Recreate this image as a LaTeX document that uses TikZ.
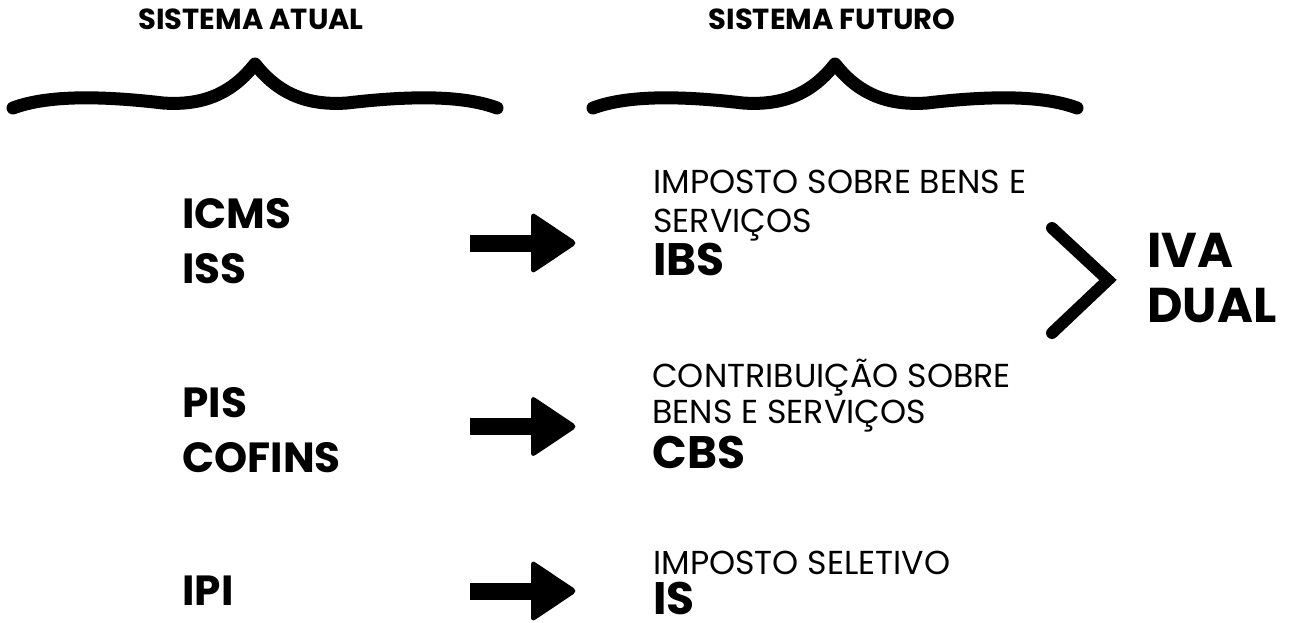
\documentclass[tikz,border=0pt]{standalone}
\usepackage{fontspec}
\setmainfont{Poppins}
\usetikzlibrary{calc}
\tikzset{
		heading/.style={font=\bfseries\fontsize{16.5}{18}\selectfont, inner sep=0pt, anchor=base},
		oldtax/.style={font=\bfseries\fontsize{24}{28}\selectfont, inner sep=0pt, anchor=base west},
		newtax/.style={font=\bfseries\fontsize{25.9}{30}\selectfont, inner sep=0pt, anchor=base west},
		taxname/.style={font=\fontsize{18.9}{22}\selectfont, inner sep=0pt, anchor=base west},
		ivatext/.style={font=\bfseries\fontsize{27.8}{32}\selectfont, inner sep=0pt, anchor=base west},
		brace line/.style={line width=7.4pt, line cap=round, line join=round},
		curlybrace/.pic={
			\draw[brace line] (-242,44) .. controls (-210,32) and (-160,31) .. (-92,39)
				.. controls (-50,42) and (-22,28) .. (0,0)
				.. controls (22,28) and (50,42) .. (92,39)
				.. controls (160,31) and (210,32) .. (242,44);
		},
		arrow head/.style={fill=black, rounded corners=3pt}
	}

\begin{document}
\begin{tikzpicture}[x=0.02cm, y=-0.02cm]
				\useasboundingbox (0,0) rectangle (1300,622);

				% headings and braces
				\node[heading] (atual)  at (251,30) {SISTEMA ATUAL};
				\node[heading] (futuro) at (832,30) {SISTEMA FUTURO};
				\pic at (255,64) {curlybrace};
				\pic at (835,64) {curlybrace};

				% current taxes
				\node[oldtax] (icms)   at (182,228) {ICMS};
				\node[oldtax] (iss)    at (182,283) {ISS};
				\node[oldtax] (pis)    at (182,417) {PIS};
				\node[oldtax] (cofins) at (182,472) {COFINS};
				\node[oldtax] (ipi)    at (182,605) {IPI};

				% future taxes
				\node[taxname] (ibsname1) at (653,193) {IMPOSTO SOBRE BENS E};
				\node[taxname] (ibsname2) at (653,232) {SERVIÇOS};
				\node[newtax]  (ibs)      at (653,275) {IBS};
				\node[taxname] (cbsname1) at (652,387) {CONTRIBUIÇÃO SOBRE};
				\node[taxname] (cbsname2) at (652,423) {BENS E SERVIÇOS};
				\node[newtax]  (cbs)      at (652,468) {CBS};
				\node[taxname] (isname)   at (653,574) {IMPOSTO SELETIVO};
				\node[newtax]  (is)       at (653,614) {IS};

				\node[ivatext] (iva)  at (1147,267) {IVA};
				\node[ivatext] (dual) at (1147,322) {DUAL};

				% arrows
				\coordinate (a1s) at (470,243);   \coordinate (a1e) at (578,243);
				\coordinate (a2s) at (470,426.5); \coordinate (a2e) at (578,426.5);
				\coordinate (a3s) at (470,591);   \coordinate (a3e) at (578,591);

				\fill (a1s) ++(0,-8.5) rectangle ($(a1e)+(-40,8.5)$);
				\fill[arrow head] (a1e) -- ++(-47,-31.5) -- ++(0,63) -- cycle;
				\fill (a2s) ++(0,-8.5) rectangle ($(a2e)+(-40,8.5)$);
				\fill[arrow head] (a2e) -- ++(-47,-31.5) -- ++(0,63) -- cycle;
				\fill (a3s) ++(0,-8.5) rectangle ($(a3e)+(-40,8.5)$);
				\fill[arrow head] (a3e) -- ++(-47,-31.5) -- ++(0,63) -- cycle;

				% chevron
				\coordinate (chtop) at (1052,228);
				\coordinate (chtip) at (1108,280);
				\coordinate (chbot) at (1052,333);
				\draw[line width=6.8pt, line cap=round] (chtop) -- (chtip) -- (chbot);
			\end{tikzpicture}
\end{document}
